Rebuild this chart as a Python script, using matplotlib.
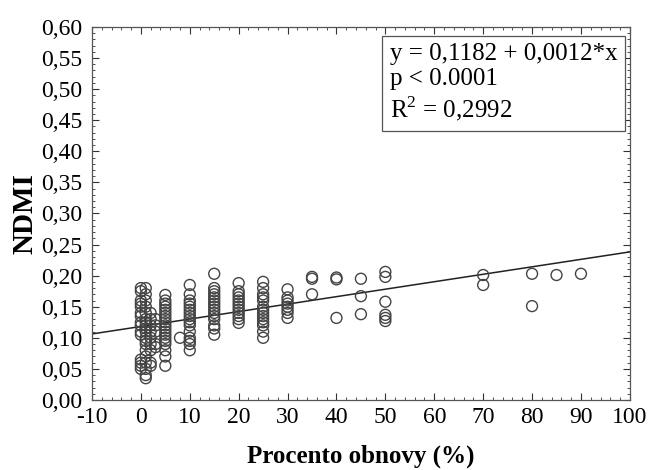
import numpy as np
import matplotlib
matplotlib.use("Agg")
import matplotlib.pyplot as plt
from matplotlib.ticker import MultipleLocator, FuncFormatter

# ---- data ----
groups_x = [0, 1, 2, 3, 5, 8, 10, 15, 20, 25, 30, 35, 40, 45, 50, 70, 80, 85, 90]
groups_y = [
    [0.180, 0.175, 0.160, 0.155, 0.150, 0.140, 0.135, 0.125, 0.120, 0.110, 0.105, 0.065, 0.060, 0.055, 0.050],
    [0.180, 0.170, 0.160, 0.150, 0.140, 0.130, 0.125, 0.120, 0.115, 0.110, 0.100, 0.095, 0.090, 0.080,
     0.070, 0.060, 0.050, 0.040, 0.035],
    [0.140, 0.130, 0.120, 0.110, 0.100, 0.090, 0.080, 0.060, 0.055],
    [0.130, 0.120, 0.110, 0.090, 0.085],
    [0.169, 0.160, 0.155, 0.150, 0.145, 0.140, 0.135, 0.130, 0.125, 0.120, 0.115, 0.110, 0.105, 0.100,
     0.095, 0.090, 0.080, 0.070, 0.055],
    [0.100],
    [0.185, 0.170, 0.160, 0.155, 0.150, 0.145, 0.140, 0.135, 0.130, 0.125, 0.120, 0.110, 0.100, 0.095,
     0.090, 0.080],
    [0.203, 0.180, 0.175, 0.170, 0.165, 0.160, 0.155, 0.150, 0.145, 0.140, 0.135, 0.130, 0.120, 0.115, 0.105],
    [0.188, 0.175, 0.170, 0.165, 0.160, 0.155, 0.150, 0.145, 0.140, 0.135, 0.130, 0.124],
    [0.190, 0.180, 0.170, 0.165, 0.160, 0.150, 0.145, 0.140, 0.135, 0.130, 0.125, 0.120, 0.110, 0.100],
    [0.178, 0.165, 0.160, 0.155, 0.150, 0.145, 0.140, 0.132],
    [0.198, 0.195, 0.170],
    [0.197, 0.194, 0.132],
    [0.195, 0.167, 0.138],
    [0.206, 0.198, 0.158, 0.137, 0.132, 0.127],
    [0.201, 0.185],
    [0.203, 0.151],
    [0.201],
    [0.203],
]
intercept = 0.1182
slope = 0.0012
stats_lines = ["y = 0,1182 + 0,0012*x", "p < 0.0001", "R$^2$ = 0,2992"]
x_label = "Procento obnovy (%)"
y_label = "NDMI"

xs = np.concatenate([[gx] * len(gy) for gx, gy in zip(groups_x, groups_y)])
ys = np.concatenate(groups_y)

plt.rcParams['font.family'] = ['Liberation Serif', 'DejaVu Serif']
plt.rcParams['mathtext.fontset'] = 'custom'
plt.rcParams['mathtext.rm'] = 'Liberation Serif'

fig = plt.figure(figsize=(6.5, 4.7), dpi=100)
ax = fig.add_axes([0.1415, 0.149, 0.8275, 0.7936])

ax.scatter(xs, ys, s=62, facecolors='none', edgecolors='#444444', linewidths=1.0, zorder=3)

xl = np.array([-10, 100])
ax.plot(xl, intercept + slope * xl, color='#222222', lw=1.1, zorder=2)

ax.set_xlim(-10, 100)
ax.set_ylim(0, 0.60)
ax.xaxis.set_major_locator(MultipleLocator(10))
ax.xaxis.set_minor_locator(MultipleLocator(2))
ax.yaxis.set_major_locator(MultipleLocator(0.05))
ax.yaxis.set_minor_locator(MultipleLocator(0.01))
ax.yaxis.set_major_formatter(FuncFormatter(lambda v, p: f"{v:.2f}".replace('.', ',')))
ax.xaxis.set_major_formatter(FuncFormatter(lambda v, p: f"{v:.0f}"))

ax.tick_params(which='both', direction='in', top=True, right=True, labelsize=17, colors='#333333',
               labelcolor='black')
ax.tick_params(which='major', length=5, width=0.8)
ax.tick_params(which='minor', length=2.5, width=0.6)
ax.tick_params(axis='y', which='major', pad=7)
ax.tick_params(axis='x', which='major', pad=5)
for sp in ax.spines.values():
    sp.set_color('#555555')
    sp.set_linewidth(0.9)

ax.set_xlabel(x_label, fontsize=18, fontweight='bold', labelpad=12)
ax.set_ylabel(y_label, fontsize=21, fontweight='bold', labelpad=2)

ax.text(0.554, 0.958, "\n".join(stats_lines), transform=ax.transAxes, ha='left', va='top',
        fontsize=18, linespacing=1.2,
        bbox=dict(boxstyle='square,pad=0.3', facecolor='white', edgecolor='#555555', linewidth=0.9))

fig.savefig("out.png", dpi=100)
